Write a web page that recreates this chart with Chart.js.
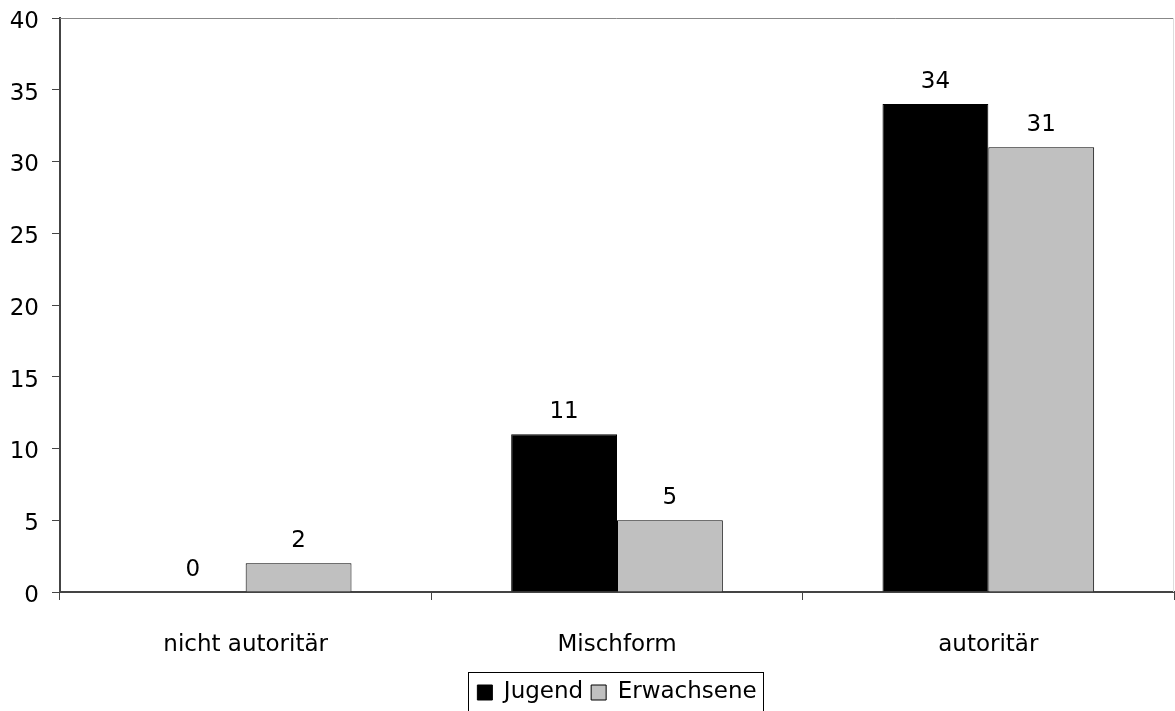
<!DOCTYPE html>
<html>
<head>
<meta charset="utf-8">
<script src="https://cdn.jsdelivr.net/npm/chart.js@4"></script>
<style>
html,body{margin:0;padding:0;background:#fff;}
#wrap{width:1175px;height:711px;position:relative;}
</style>
</head>
<body>
<div id="wrap"><canvas id="c" width="1175" height="711"></canvas></div>
<script>
const categories = ["nicht autoritär", "Mischform", "autoritär"];
const seriesNames = ["Jugend", "Erwachsene"];
const jugend = [0, 11, 34];
const erwachsene = [2, 5, 31];
const yTicks = [0, 5, 10, 15, 20, 25, 30, 35, 40];

const FONT = "'DejaVu Sans', 'Liberation Sans', Arial, sans-serif";
const FS = 23;

const valueLabels = {
  id: 'valueLabels',
  afterDatasetsDraw(chart) {
    const ctx = chart.ctx;
    ctx.save();
    ctx.font = FS + "px " + FONT;
    ctx.fillStyle = '#000';
    ctx.textAlign = 'center';
    ctx.textBaseline = 'middle';
    chart.data.datasets.forEach((ds, i) => {
      chart.getDatasetMeta(i).data.forEach((bar, j) => {
        ctx.fillText(String(ds.data[j]), bar.x, bar.y - 22);
      });
    });
    ctx.restore();
  }
};

const legendShift = {
  id: 'legendShift',
  afterLayout(chart) {
    const lg = chart.legend, a = chart.chartArea;
    if (!lg) return;
    const dx = Math.round((a.left + a.right) / 2 - (lg.left + lg.right) / 2);
    lg.left += dx; lg.right += dx;
    lg.top += 3; lg.bottom += 3;
  }
};

const frame = {
  id: 'frame',
  beforeDatasetsDraw(chart) {
    const a = chart.chartArea, ctx = chart.ctx;
    ctx.save();
    ctx.strokeStyle = '#888';
    ctx.lineWidth = 1;
    ctx.beginPath();
    ctx.moveTo(a.left, a.top + 0.5);
    ctx.lineTo(a.right - 0.5, a.top + 0.5);
    ctx.stroke();
    ctx.strokeStyle = '#ddd';
    ctx.beginPath();
    ctx.moveTo(a.right - 0.5, a.top);
    ctx.lineTo(a.right - 0.5, a.bottom);
    ctx.stroke();
    ctx.restore();
  },
  afterDraw(chart) {
    const lg = chart.legend;
    if (!lg || !lg.legendHitBoxes || !lg.legendHitBoxes.length) return;
    const hb = lg.legendHitBoxes;
    let l = Infinity, r = -Infinity;
    hb.forEach(b => { l = Math.min(l, b.left); r = Math.max(r, b.left + b.width); });
    const ctx = chart.ctx;
    ctx.save();
    ctx.strokeStyle = '#000';
    ctx.lineWidth = 1;
    ctx.strokeRect(Math.round(l - 9) + 0.5, Math.round(hb[0].top - 9) + 0.5, Math.round(r - l + 16), 60);
    ctx.restore();
  }
};

new Chart(document.getElementById('c'), {
  type: 'bar',
  data: {
    labels: categories,
    datasets: [
      { label: seriesNames[0], data: jugend, backgroundColor: '#000000', borderColor: '#000000', borderWidth: 1 },
      { label: seriesNames[1], data: erwachsene, backgroundColor: '#c0c0c0', borderColor: '#000000', borderWidth: 1 }
    ]
  },
  options: {
    responsive: false,
    animation: false,
    events: [],
    layout: { padding: { top: 18, right: 1, left: 0, bottom: 0 } },
    datasets: { bar: { categoryPercentage: 0.57, barPercentage: 1.0 } },
    plugins: {
      legend: {
        position: 'bottom',
        labels: {
          font: { size: FS, family: FONT },
          color: '#000',
          boxWidth: 15,
          boxHeight: 15,
          padding: 8,
          useBorderRadius: false
        }
      },
      tooltip: { enabled: false },
      title: { display: false }
    },
    scales: {
      x: {
        grid: { display: true, offset: true, drawOnChartArea: false, tickLength: 8, color: '#444' },
        border: { display: true, color: '#444', width: 2 },
        ticks: { font: { size: FS, family: FONT }, color: '#000', padding: 31, maxRotation: 0 },
        afterFit(s) { s.height = 78; s.paddingLeft = 0; s.paddingRight = 0; }
      },
      y: {
        min: 0, max: 40,
        afterBuildTicks(s) { s.ticks = yTicks.map(v => ({ value: v })); },
        grid: { display: true, drawOnChartArea: false, tickLength: 8, color: '#444' },
        border: { display: true, color: '#444', width: 2 },
        ticks: { font: { size: FS, family: FONT }, color: '#000', padding: 13, labelOffset: 4 },
        afterFit(s) { s.width = 60; s.paddingTop = 0; s.paddingBottom = 0; }
      }
    }
  },
  plugins: [legendShift, valueLabels, frame]
});
</script>
</body>
</html>
